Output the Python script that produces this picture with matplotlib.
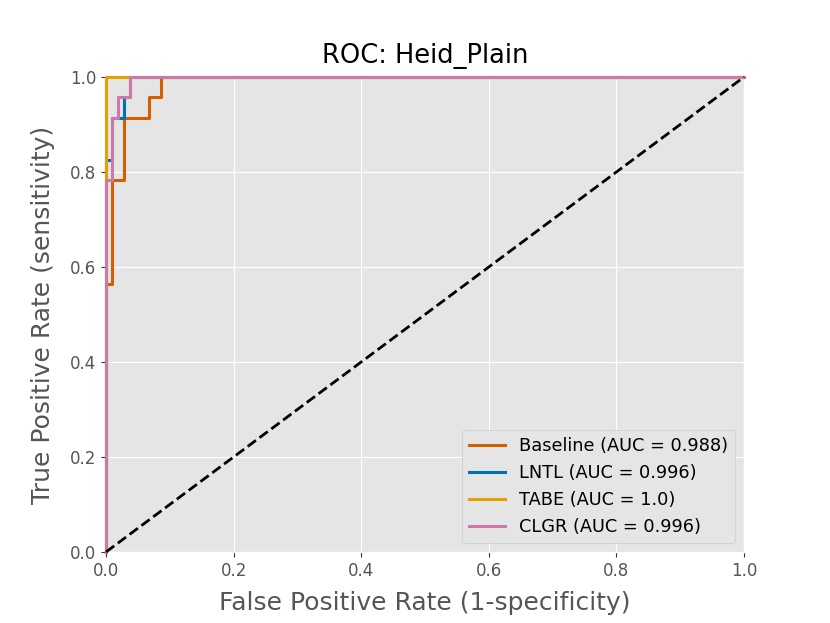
import matplotlib
matplotlib.use("Agg")
import matplotlib.pyplot as plt

plt.style.use("ggplot")

title = "ROC: Heid_Plain"

# ROC curves (fpr, tpr)
baseline_fpr = [0.0, 0.0, 0.0095, 0.0095, 0.0286, 0.0286, 0.0667, 0.0667, 0.0857, 0.0857, 1.0]
baseline_tpr = [0.0, 0.565, 0.565, 0.783, 0.783, 0.913, 0.913, 0.957, 0.957, 1.0, 1.0]

lntl_fpr = [0.0, 0.0, 0.0095, 0.0095, 0.0286, 0.0286, 0.0381, 0.0381, 1.0]
lntl_tpr = [0.0, 0.826, 0.826, 0.913, 0.913, 0.957, 0.957, 1.0, 1.0]

tabe_fpr = [0.0, 0.0, 1.0]
tabe_tpr = [0.0, 1.0, 1.0]

clgr_fpr = [0.0, 0.0, 0.0095, 0.0095, 0.019, 0.019, 0.0381, 0.0381, 1.0]
clgr_tpr = [0.0, 0.783, 0.783, 0.913, 0.913, 0.957, 0.957, 1.0, 1.0]

names = ["Baseline", "LNTL", "TABE", "CLGR"]
aucs = ["0.988", "0.996", "1.0", "0.996"]
colors = ["#d55e00", "#0072b2", "#e69f00", "#cc79a7"]

fig, ax = plt.subplots(figsize=(8.3, 6.23), dpi=100)
fig.subplots_adjust(left=0.1277, right=0.8964, top=0.8764, bottom=0.114)

curves = [(baseline_fpr, baseline_tpr), (lntl_fpr, lntl_tpr),
          (tabe_fpr, tabe_tpr), (clgr_fpr, clgr_tpr)]
for (f, t), n, a, c in zip(curves, names, aucs, colors):
    ax.plot(f, t, color=c, lw=2.2, label="%s (AUC = %s)" % (n, a),
            clip_on=False, zorder=3)

ax.plot([0, 1], [0, 1], "k--", lw=2, clip_on=False, zorder=3)

ax.set_xlim(0, 1.0)
ax.set_ylim(0, 1.0)
ax.set_title(title, fontsize=18.5, color="black", pad=10)
ax.set_xlabel("False Positive Rate (1-specificity)", fontsize=18, color="#555555", labelpad=8)
ax.set_ylabel("True Positive Rate (sensitivity)", fontsize=18, color="#555555", labelpad=11)
ax.tick_params(labelsize=12, colors="#555555")
ax.tick_params(color="#333333")

leg = ax.legend(loc="lower right", fontsize=12.8, facecolor="#E5E5E5",
                edgecolor="#cccccc", framealpha=1)

plt.savefig("out.png", dpi=100)
